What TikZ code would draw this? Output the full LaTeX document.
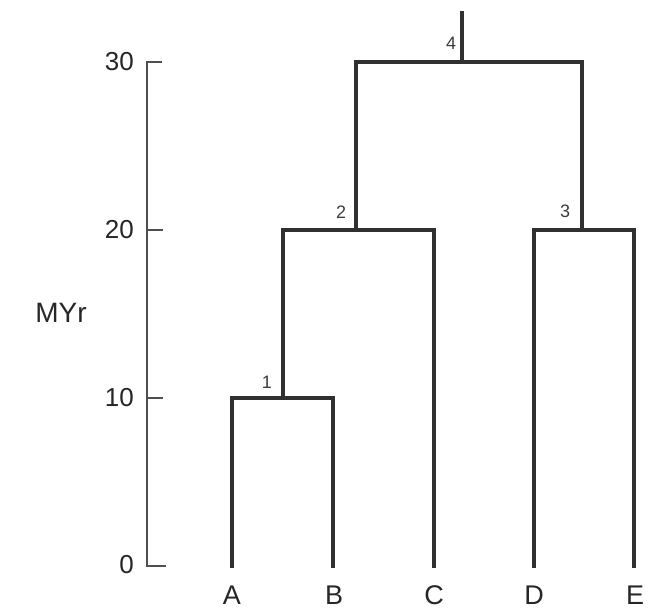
\documentclass[tikz,border=0pt]{standalone}
\usepackage{fontspec}
\setmainfont{Liberation Sans}
\definecolor{ink}{HTML}{303030}
\definecolor{txt}{HTML}{262626}
\begin{document}
\begin{tikzpicture}[x=1pt,y=-1pt,
  branch/.style={draw=ink,line width=3.8pt,line join=miter,line cap=rect},
  axisline/.style={draw=ink!85,line width=2.8pt,line join=miter},
  leaflab/.style={text=txt,font=\fontsize{27}{30}\selectfont,inner sep=0pt},
  ticklab/.style={text=txt,font=\fontsize{26}{30}\selectfont,inner sep=0pt,anchor=east},
  nodelab/.style={text=txt!90,font=\fontsize{18}{20}\selectfont,inner sep=0pt}]
\useasboundingbox (0,0) rectangle (655,613);
% leaves
\coordinate (A) at (232,566);
\coordinate (B) at (333,566);
\coordinate (C) at (434,566);
\coordinate (D) at (534,566);
\coordinate (E) at (634,566);
% internal nodes
\coordinate (n1) at (283,398);
\coordinate (n2) at (356,230);
\coordinate (n3) at (582,230);
\coordinate (n4) at (462,62);
\coordinate (root) at (462,13);
% tree
\path[branch] (A) |- (n1) -| (B);
\path[branch] (n1) |- (n2) -| (C);
\path[branch] (D) |- (n3) -| (E);
\path[branch] (n2) |- (n4) -| (n3);
\path[branch] (n4) -- (root);
% node numbers
\node[nodelab] (l1) at (267,382) {1};
\node[nodelab] (l2) at (341,212) {2};
\node[nodelab] (l3) at (565,211) {3};
\node[nodelab] (l4) at (451,43) {4};
% leaf labels
\node[leaflab] (tA) at (232,595) {A};
\node[leaflab] (tB) at (334,595) {B};
\node[leaflab] (tC) at (434,595) {C};
\node[leaflab] (tD) at (534,595) {D};
\node[leaflab] (tE) at (635,595) {E};
% axis
\coordinate (a30) at (147,62);
\coordinate (a20) at (147,230);
\coordinate (a10) at (147,398);
\coordinate (a0) at (147,566);
\path[axisline] (162,62) -- (a30) -- (a0) -- (166,566);
\path[axisline] (a20) -- (163,230);
\path[axisline] (a10) -- (163,398);
\node[ticklab] (y30) at (134,62) {30};
\node[ticklab] (y20) at (134,230) {20};
\node[ticklab] (y10) at (134,398) {10};
\node[ticklab] (y0) at (134,565) {0};
\node[text=txt,font=\fontsize{28}{32}\selectfont,inner sep=0pt] (unit) at (61,313) {MYr};
\end{tikzpicture}
\end{document}
